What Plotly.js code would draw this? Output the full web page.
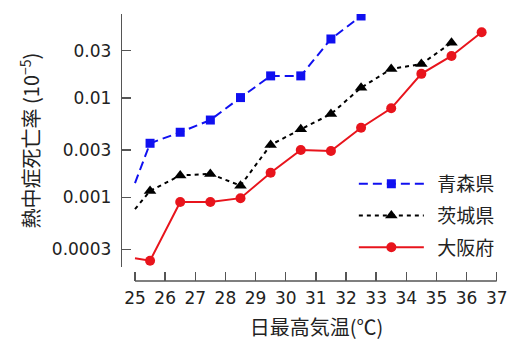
<!DOCTYPE html>
<html>
<head>
<meta charset="utf-8">
<script src="https://cdn.plot.ly/plotly-3.0.1.min.js"></script>
<style>html,body{margin:0;padding:0;background:#fff;}#chart{width:511px;height:341px;}</style>
</head>
<body>
<div id="chart"></div>
<script>
// Daily max temperature (°C); first value is the left edge of the line (no marker there)
var tempsAomori  = [25, 25.5, 26.5, 27.5, 28.5, 29.5, 30.5, 31.5, 32.5];
var tempsIbaraki = [25, 25.5, 26.5, 27.5, 28.5, 29.5, 30.5, 31.5, 32.5, 33.5, 34.5, 35.5];
var tempsOsaka   = [25, 25.5, 26.5, 27.5, 28.5, 29.5, 30.5, 31.5, 32.5, 33.5, 34.5, 35.5, 36.5];

// Heatstroke mortality rate (10^-5)
var aomori  = [0.00139, 0.0035, 0.00452, 0.0060, 0.0101, 0.0167, 0.0167, 0.0393, 0.067];
var ibaraki = [0.00076, 0.00116, 0.00166, 0.00172, 0.00131, 0.00337, 0.00484, 0.0069, 0.0127, 0.0196, 0.0220, 0.0360];
var osaka   = [0.000243, 0.00023, 0.000897, 0.000897, 0.00098, 0.00177, 0.0030, 0.00293, 0.00502, 0.00787, 0.0175, 0.0265, 0.0459];

var names = ['青森県', '茨城県', '大阪府'];
var yTickVals = [0.0003, 0.001, 0.003, 0.01, 0.03];
var yTickText = ['0.0003', '0.001', '0.003', '0.01', '0.03'];
var xTickVals = [25, 26, 27, 28, 29, 30, 31, 32, 33, 34, 35, 36, 37];

function markedPoints(n) { var a = []; for (var i = 1; i < n; i++) a.push(i); return a; }

var numFont = 'DejaVu Sans, Noto Sans CJK JP, sans-serif';
var cjkFont = 'Noto Sans CJK JP, DejaVu Sans, sans-serif';
var pad = '\u00a0\u00a0';

function mk(x, y, name, group, line, marker) {
  return {x: x, y: y, name: pad + name, legendgroup: group, mode: 'lines+markers',
          line: line, marker: marker,
          selectedpoints: markedPoints(x.length),
          selected: {marker: {opacity: 1}}, unselected: {marker: {opacity: 0}}};
}

var traces = [
  mk(tempsAomori, aomori, names[0], 'a', {color: '#1010f0', width: 2, dash: '9px,5px'},
     {symbol: 'square', size: 9, color: '#1010f0'}),
  mk(tempsIbaraki, ibaraki, names[1], 'b', {color: '#000000', width: 2, dash: '4px,4px'},
     {symbol: 'triangle-up', size: 11, color: '#000000'}),
  mk(tempsOsaka, osaka, names[2], 'c', {color: '#e8141c', width: 2},
     {symbol: 'circle', size: 10, color: '#e8141c'})
];

var layout = {
  width: 511, height: 341,
  margin: {l: 122, r: 0, t: 14, b: 60},
  paper_bgcolor: '#fff', plot_bgcolor: '#fff',
  font: {family: numFont, size: 17, color: '#222'},
  showlegend: true,
  legend: {x: 0.596, y: 0.4345, xanchor: 'left', yanchor: 'top', bgcolor: 'rgba(0,0,0,0)',
           font: {family: cjkFont, size: 19, color: '#222'}, itemwidth: 65,
           traceorder: 'grouped', tracegroupgap: 4},
  xaxis: {
    type: 'linear', range: [24.569, 37.474], anchor: 'free', position: 0,
    tickvals: xTickVals, ticks: 'inside', ticklen: 9, tickcolor: '#555', tickwidth: 1.3,
    showline: false, showgrid: false, zeroline: false, ticklabelstandoff: 5,
    tickfont: {family: numFont, size: 17, color: '#222'},
    title: {text: '日最高気温(℃)', font: {family: cjkFont, size: 20, color: '#222'}, standoff: 17}
  },
  yaxis: {
    type: 'log', range: [-3.702, -1.154], domain: [0.0524, 1],
    tickvals: yTickVals, ticktext: yTickText, ticks: 'inside', ticklen: 9, tickcolor: '#555', tickwidth: 1.3,
    showline: true, linecolor: '#555', linewidth: 1.3, showgrid: false, zeroline: false,
    tickfont: {family: numFont, size: 17, color: '#222'}, ticklabelstandoff: 6,
    title: {text: '熱中症死亡率 (10<sup>−5</sup>)', font: {family: cjkFont, size: 20, color: '#222'}, standoff: 6}
  },
  shapes: [
    {type: 'line', xref: 'x', yref: 'paper', x0: xTickVals[0], x1: xTickVals[xTickVals.length - 1], y0: 0, y1: 0,
     line: {color: '#555', width: 1.3}}
  ]
};

Plotly.newPlot('chart', traces, layout, {displayModeBar: false, staticPlot: true});
</script>
</body>
</html>
